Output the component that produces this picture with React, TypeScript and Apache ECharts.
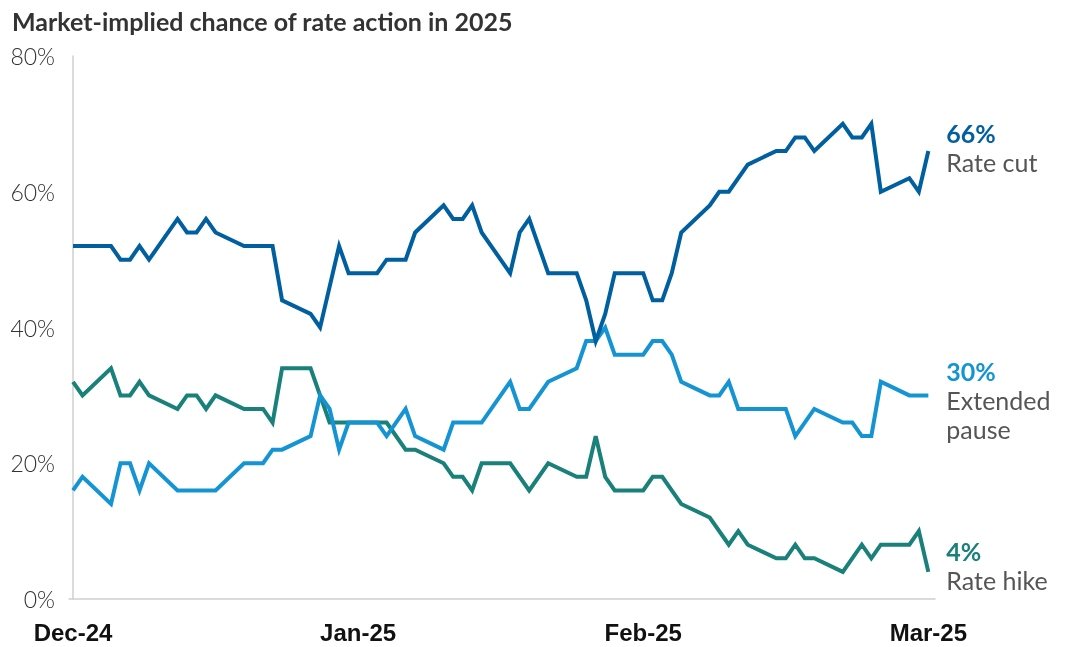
import React, { useEffect, useRef } from "react";
import * as echarts from "echarts";

const TITLE = "Market-implied chance of rate action in 2025";
const xTickIndex = [0, 30, 60, 90];
const xTickLabels = ["Dec-24", "Jan-25", "Feb-25", "Mar-25"];

const cutIdx = [0, 4, 5, 6, 7, 8, 11, 12, 13, 14, 15, 18, 21, 22, 25, 26, 28, 29, 32, 33, 35, 36, 39, 40, 41, 42, 43, 46, 47, 48, 49, 50, 53, 54, 55, 56, 57, 60, 61, 62, 63, 64, 67, 68, 69, 71, 74, 75, 76, 77, 78, 81, 82, 83, 84, 85, 88, 89, 90];
const cutVal = [52, 52, 50, 50, 52, 50, 56, 54, 54, 56, 54, 52, 52, 44, 42, 40, 52, 48, 48, 50, 50, 54, 58, 56, 56, 58, 54, 48, 54, 56, 52, 48, 48, 44, 38, 42, 48, 48, 44, 44, 48, 54, 58, 60, 60, 64, 66, 66, 68, 68, 66, 70, 68, 68, 70, 60, 62, 60, 66];

const pauseIdx = [0, 1, 4, 5, 6, 7, 8, 11, 15, 18, 20, 21, 22, 25, 26, 27, 28, 29, 32, 33, 35, 36, 39, 40, 43, 46, 47, 48, 50, 53, 54, 55, 56, 57, 60, 61, 62, 63, 64, 67, 68, 69, 70, 75, 76, 78, 81, 82, 83, 84, 85, 88, 90];
const pauseVal = [16, 18, 14, 20, 20, 16, 20, 16, 16, 20, 20, 22, 22, 24, 30, 28, 22, 26, 26, 24, 28, 24, 22, 26, 26, 32, 28, 28, 32, 34, 38, 38, 40, 36, 36, 38, 38, 36, 32, 30, 30, 32, 28, 28, 24, 28, 26, 26, 24, 24, 32, 30, 30];

const hikeIdx = [0, 1, 4, 5, 6, 7, 8, 11, 12, 13, 14, 15, 18, 20, 21, 22, 25, 26, 27, 33, 35, 36, 39, 40, 41, 42, 43, 46, 48, 50, 53, 54, 55, 56, 57, 60, 61, 62, 64, 67, 69, 70, 71, 74, 75, 76, 77, 78, 81, 83, 84, 85, 88, 89, 90];
const hikeVal = [32, 30, 34, 30, 30, 32, 30, 28, 30, 30, 28, 30, 28, 28, 26, 34, 34, 30, 26, 26, 22, 22, 20, 18, 18, 16, 20, 20, 16, 20, 18, 18, 24, 18, 16, 16, 18, 18, 14, 12, 8, 10, 8, 6, 6, 8, 6, 6, 4, 8, 6, 8, 8, 10, 4];

const seriesNames = ["Rate hike", "Extended\npause", "Rate cut"];
const seriesColors = ["#19807a", "#1494d3", "#005f9e"];

const pair = (xs: number[], ys: number[]) => xs.map((x, i) => [x, ys[i]]);

export default function App() {
  const ref = useRef<HTMLDivElement>(null);
  useEffect(() => {
    if (!ref.current) return;
    const chart = echarts.init(ref.current, undefined, { renderer: "svg" });
    const datasets = [pair(hikeIdx, hikeVal), pair(pauseIdx, pauseVal), pair(cutIdx, cutVal)];
    const offsets = [[0, -6], [0, 5], [0, -4]];
    chart.setOption({
      animation: false,
      title: {
        text: TITLE,
        left: 7,
        top: 3,
        textStyle: { fontFamily: "Lato", fontWeight: "bold", fontSize: 25, color: "#333333" },
      },
      grid: { left: 69, right: 131, top: 56, bottom: 48, containLabel: false },
      xAxis: {
        type: "value",
        min: -0.42,
        max: 90.7,
        splitLine: { show: false },
        axisTick: { show: false },
        axisLine: { show: true, lineStyle: { color: "#cfcfcf", width: 1.5 } },
        axisLabel: {
          customValues: xTickIndex,
          formatter: (v: number) => xTickLabels[xTickIndex.indexOf(Math.round(v))] ?? "",
          margin: 21,
          fontFamily: "'Liberation Sans', Arial",
          fontWeight: "bold",
          fontSize: 24,
          color: "#111111",
        },
      },
      yAxis: {
        type: "value",
        min: 0,
        max: 80,
        interval: 20,
        splitLine: { show: false },
        axisTick: { show: false },
        axisLine: { show: true, lineStyle: { color: "#cfcfcf", width: 1.5 } },
        axisLabel: {
          formatter: "{value}%",
          margin: 14,
          fontFamily: "Lato",
          fontWeight: 300,
          fontSize: 23,
          color: "#333333",
        },
      },
      series: datasets.map((d, i) => ({
        type: "line",
        name: seriesNames[i],
        data: d,
        symbol: "none",
        lineStyle: { width: 4, color: seriesColors[i], join: "miter" },
        itemStyle: { color: seriesColors[i] },
        z: 2 + i,
        endLabel: {
          show: true,
          distance: 18,
          offset: offsets[i],
          formatter: (p: any) => `{v|${p.value[1]}%}\n{n|${seriesNames[i].replace("\n", "}\n{n|")}}`,
          rich: {
            v: { fontFamily: "Lato", fontWeight: "bold", fontSize: 25, color: seriesColors[i], lineHeight: 29 },
            n: { fontFamily: "Lato", fontSize: 25, color: "#555555", lineHeight: 29 },
          },
        },
      })),
    });
    return () => chart.dispose();
  }, []);
  return <div ref={ref} style={{ position: "fixed", left: 0, top: 0, width: 1066, height: 647 }} />;
}
